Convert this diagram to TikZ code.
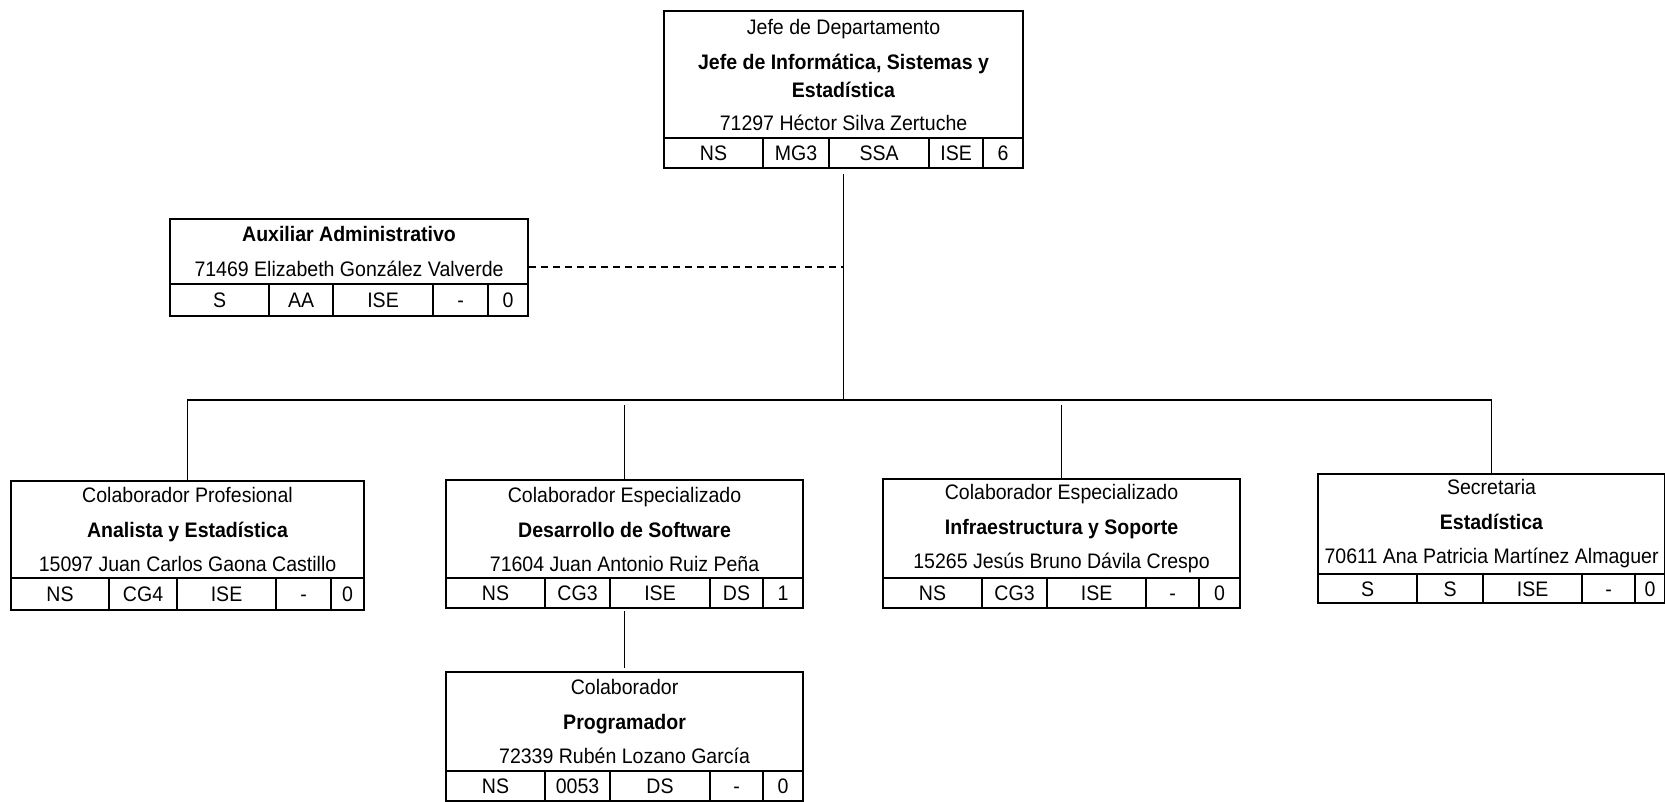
\documentclass[tikz,border=0pt]{standalone}
\usepackage{fontspec}
\setmainfont{Liberation Sans}[FakeStretch=0.93]
\begin{document}
\begin{tikzpicture}[x=1pt, y=-1pt,
        every node/.style={font=\fontsize{21}{28}\selectfont},
        cargo/.style={draw, line width=2.1pt, anchor=north west, inner sep=0pt, align=center},
        celda/.style={draw, line width=2.1pt, anchor=north west, inner sep=0pt, text height=15pt, text depth=0pt},
        linea/.style={line width=1.5pt}] %Organigrama
            \useasboundingbox (0,0) rectangle (1665,801);

            \node[cargo, minimum width=359pt, minimum height=127pt] (jefe) at (663,10)
                {Jefe de Departamento\\[7pt] \textbf{Jefe de Informática, Sistemas y}\\ \textbf{Estadística}\\[5pt] 71297 Héctor Silva Zertuche};
            \foreach \a/\b/\t [count=\i] in {663/762/NS, 762/828/MG3, 828/928/SSA, 928/982/ISE, 982/1022/6}
                \node[celda, minimum width={(\b-\a)*1pt}, minimum height=30pt] (jefe\i) at (\a,137) {\t};

            \node[cargo, minimum width=358pt, minimum height=65pt] (aux) at (169,218)
                {\textbf{Auxiliar Administrativo}\\[7pt] 71469 Elizabeth González Valverde};
            \foreach \a/\b/\t [count=\i] in {169/268/S, 268/332/AA, 332/432/ISE, 432/487/-, 487/527/0}
                \node[celda, minimum width={(\b-\a)*1pt}, minimum height=32pt] (aux\i) at (\a,283) {\t};

            \node[cargo, minimum width=353pt, minimum height=97pt] (analista) at (10,480)
                {Colaborador Profesional\\[7pt] \textbf{Analista y Estadística}\\[6pt] 15097 Juan Carlos Gaona Castillo};
            \foreach \a/\b/\t [count=\i] in {10/108/NS, 108/176/CG4, 176/275/ISE, 275/330/-, 330/363/0}
                \node[celda, minimum width={(\b-\a)*1pt}, minimum height=32pt] (analista\i) at (\a,577) {\t};

            \node[cargo, minimum width=357pt, minimum height=98pt] (desarrollo) at (445,479)
                {Colaborador Especializado\\[7pt] \textbf{Desarrollo de Software}\\[6pt] 71604 Juan Antonio Ruiz Peña};
            \foreach \a/\b/\t [count=\i] in {445/544/NS, 544/609/CG3, 609/709/ISE, 709/762/DS, 762/802/1}
                \node[celda, minimum width={(\b-\a)*1pt}, minimum height=30pt] (desarrollo\i) at (\a,577) {\t};

            \node[cargo, minimum width=357pt, minimum height=99pt] (infra) at (882,478)
                {Colaborador Especializado\\[7pt] \textbf{Infraestructura y Soporte}\\[6pt] 15265 Jesús Bruno Dávila Crespo};
            \foreach \a/\b/\t [count=\i] in {882/981/NS, 981/1046/CG3, 1046/1145/ISE, 1145/1198/-, 1198/1239/0}
                \node[celda, minimum width={(\b-\a)*1pt}, minimum height=30pt] (infra\i) at (\a,577) {\t};

            \node[cargo, minimum width=347pt, minimum height=100pt] (secretaria) at (1317,473)
                {Secretaria\\[7pt] \textbf{Estadística}\\[6pt] 70611 Ana Patricia Martínez Almaguer};
            \foreach \a/\b/\t [count=\i] in {1317/1416/S, 1416/1482/S, 1482/1581/ISE, 1581/1634/-, 1634/1664/0}
                \node[celda, minimum width={(\b-\a)*1pt}, minimum height=29pt] (secretaria\i) at (\a,573) {\t};

            \node[cargo, minimum width=357pt, minimum height=99pt] (programador) at (445,671)
                {Colaborador\\[7pt] \textbf{Programador}\\[6pt] 72339 Rubén Lozano García};
            \foreach \a/\b/\t [count=\i] in {445/544/NS, 544/609/0053, 609/709/DS, 709/762/-, 762/802/0}
                \node[celda, minimum width={(\b-\a)*1pt}, minimum height=30pt] (programador\i) at (\a,770) {\t};

            \coordinate (bus) at (842.5,400);
            \coordinate (auxlinea) at ([yshift=-15.5pt]aux.east);

            \draw[linea, shorten <=5pt] (jefe.south |- jefe3.south) -- (jefe.south |- bus);
            \draw[linea, dash pattern=on 7pt off 5pt] (auxlinea) -- (auxlinea -| jefe.south);
            \draw[linea] (analista.north) -- (analista.north |- bus) -- (secretaria.north |- bus) -- (secretaria.north);
            \draw[linea, shorten >=5pt] (desarrollo.north) -- (desarrollo.north |- bus);
            \draw[linea, shorten >=5pt] (infra.north) -- (infra.north |- bus);
            \draw[linea, shorten <=2pt, shorten >=3pt] (desarrollo.south |- desarrollo3.south) -- (programador.north);
        \end{tikzpicture}
\end{document}
